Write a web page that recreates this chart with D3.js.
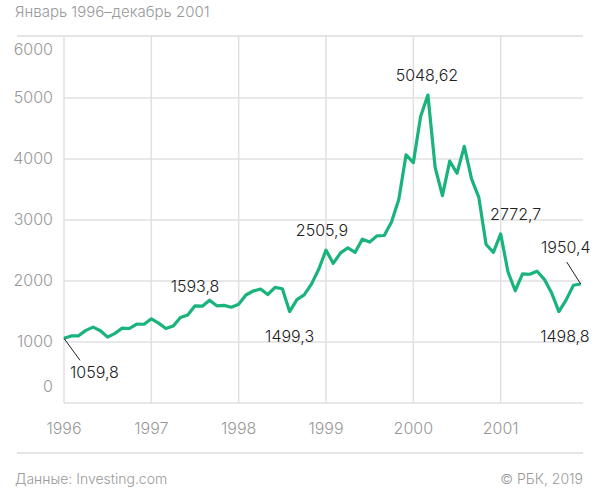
<!DOCTYPE html>
<html><head><meta charset="utf-8">
<script src="https://cdn.jsdelivr.net/npm/d3@7"></script>
<style>body{margin:0;background:#fff}text{font-family:Inter,"Noto Sans",sans-serif;font-weight:300}</style>
</head><body><svg id="c" width="597" height="500"></svg>
<script>
const years = [1996,1997,1998,1999,2000,2001];
const yTicks = [0,1000,2000,3000,4000,5000,6000];
const values = [
1059.8,1100.1,1101.4,1190.5,1243.4,1185.0,1080.6,1141.5,1226.9,1221.5,1292.6,1291.0,
1379.8,1309.0,1221.7,1260.8,1400.3,1442.1,1593.8,1587.3,1685.7,1593.6,1601.0,1570.4,
1619.4,1770.5,1835.7,1868.4,1778.9,1894.7,1872.4,1499.3,1694.0,1771.4,1949.5,2192.7,
2505.9,2288.0,2461.4,2542.9,2470.5,2686.1,2638.5,2739.4,2746.2,2966.4,3336.2,4069.3,
3940.4,4696.7,5048.62,3860.7,3400.9,3966.1,3766.9,4206.4,3672.8,3369.6,2597.9,2470.5,
2772.7,2151.8,1840.3,2116.2,2110.5,2160.5,2027.1,1805.4,1498.8,1690.2,1930.6,1950.4];
const labels = [
 {i:0,text:"1059,8",dx:6,dy:40,lx:16,ly:22},
 {i:18,text:"1593,8",dx:0,dy:-14},
 {i:31,text:"1499,3",dx:0,dy:30},
 {i:36,text:"2505,9",dx:-4,dy:-14},
 {i:50,text:"5048,62",dx:-1,dy:-14},
 {i:60,text:"2772,7",dx:15,dy:-14},
 {i:68,text:"1498,8",dx:6,dy:30},
 {i:71,text:"1950,4",dx:-15,dy:-31,lx:-14,ly:-22}
];
const svg=d3.select("#c");
const x=d3.scaleLinear().domain([1996,2002]).range([64,588]);
const y=d3.scaleLinear().domain([0,6000]).range([403,37]);
const xm=i=>x(1996+i/12);
svg.append("text").attr("x",15).attr("y",17).attr("fill","#999").attr("font-size",15).text("Январь 1996–декабрь 2001");
svg.append("line").attr("x1",17).attr("x2",583).attr("y1",36).attr("y2",36).attr("stroke","#ddd").attr("stroke-width",1.5);
const g=svg.append("g");
yTicks.filter(t=>t>0&&t<6000).forEach(t=>g.append("line").attr("x1",64).attr("x2",583).attr("y1",y(t)).attr("y2",y(t)).attr("stroke","#e0e0e0").attr("stroke-width",1.5));
years.forEach(t=>g.append("line").attr("x1",x(t)).attr("x2",x(t)).attr("y1",36).attr("y2",403).attr("stroke","#e0e0e0").attr("stroke-width",1.5));
g.append("line").attr("x1",64).attr("x2",583).attr("y1",403).attr("y2",403).attr("stroke","#e0e0e0").attr("stroke-width",1.5);
yTicks.forEach(t=>{let off=t===6000?18:t===0?-11:5;
 svg.append("text").attr("x",53).attr("y",y(t)+off).attr("text-anchor","end").attr("fill","#999").attr("font-size",16).text(t);});
years.forEach(t=>svg.append("text").attr("x",x(t)).attr("y",434).attr("text-anchor","middle").attr("fill","#999").attr("font-size",16).text(t));
svg.append("path").datum(values).attr("fill","none").attr("stroke","#19b37b").attr("stroke-width",3.2).attr("stroke-linejoin","round")
 .attr("d",d3.line().x((d,i)=>xm(i)).y(d=>y(d)));
labels.forEach(l=>{const px=xm(l.i),py=y(values[l.i]);
 if(l.lx!==undefined)svg.append("line").attr("x1",px).attr("y1",py).attr("x2",px+l.lx).attr("y2",py+l.ly).attr("stroke","#222").attr("stroke-width",1);
 svg.append("text").attr("x",px+l.dx).attr("y",py+l.dy).attr("text-anchor",l.i===0?"start":"middle").attr("fill","#222").attr("font-size",16).text(l.text);});
svg.append("line").attr("x1",17).attr("x2",583).attr("y1",453).attr("y2",453).attr("stroke","#ddd").attr("stroke-width",1.5);
svg.append("text").attr("x",15).attr("y",484).attr("fill","#999").attr("font-size",14).text("Данные: Investing.com");
svg.append("text").attr("x",583).attr("y",484).attr("text-anchor","end").attr("fill","#999").attr("font-size",14).text("© РБК, 2019");
</script></body></html>
